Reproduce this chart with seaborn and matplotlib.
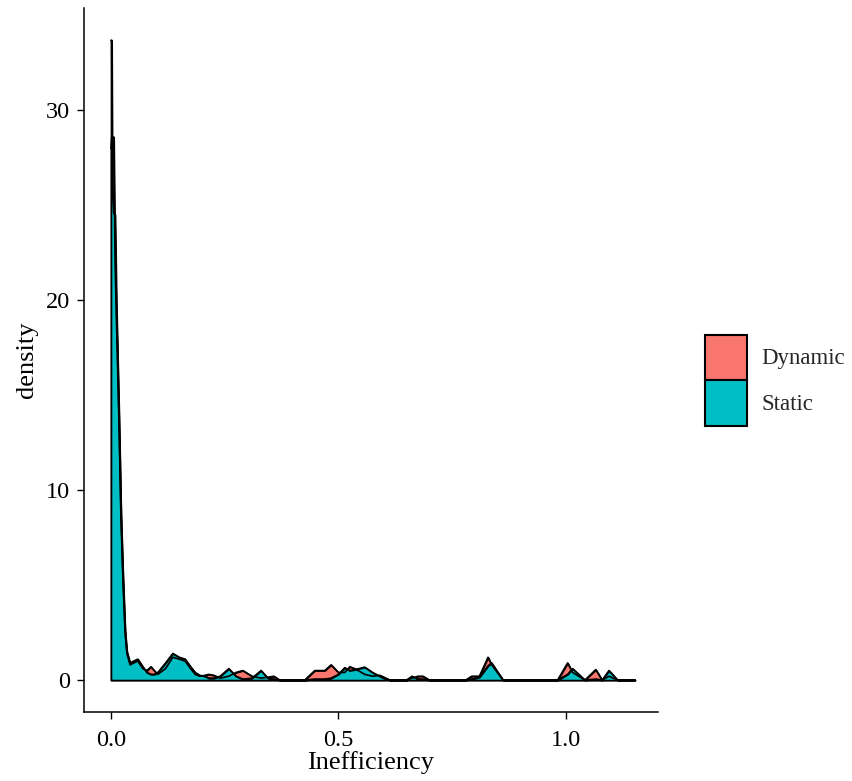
import numpy as np
import pandas as pd
import matplotlib
matplotlib.use("Agg")
import matplotlib.pyplot as plt
from matplotlib.patches import Patch
import seaborn as sns

# Density curves (x = Inefficiency, y = density)
x_grid = [0.0, 0.0015, 0.003, 0.006, 0.009, 0.012, 0.0176, 0.022, 0.0264, 0.031,
          0.035, 0.042, 0.05, 0.059, 0.07, 0.079, 0.088, 0.095, 0.103, 0.12,
          0.136, 0.15, 0.163, 0.175, 0.185, 0.195, 0.207, 0.215, 0.226, 0.24,
          0.259, 0.275, 0.29, 0.31, 0.33, 0.345, 0.358, 0.371, 0.426, 0.448,
          0.47, 0.484, 0.5, 0.514, 0.525, 0.536, 0.558, 0.575, 0.591, 0.6,
          0.613, 0.65, 0.662, 0.675, 0.686, 0.70, 0.78, 0.793, 0.81, 0.829,
          0.837, 0.862, 0.982, 1.004, 1.015, 1.042, 1.066, 1.08, 1.095, 1.114,
          1.152]
dynamic = [28.0, 28.6, 28.6, 28.6, 22.0, 19.0, 13.5, 8.5, 5.2, 2.5,
           1.4, 0.8, 0.9, 1.0, 0.6, 0.5, 0.7, 0.5, 0.3, 0.6,
           1.2, 1.1, 1.0, 0.6, 0.3, 0.2, 0.25, 0.3, 0.25, 0.1,
           0.2, 0.4, 0.5, 0.2, 0.1, 0.15, 0.2, 0.0, 0.0, 0.5,
           0.5, 0.8, 0.4, 0.4, 0.7, 0.6, 0.3, 0.2, 0.25, 0.15,
           0.0, 0.0, 0.1, 0.2, 0.2, 0.0, 0.0, 0.2, 0.2, 1.2,
           0.8, 0.0, 0.0, 0.9, 0.4, 0.0, 0.55, 0.0, 0.2, 0.0,
           0.0]
static = [33.7, 33.7, 26.0, 24.6, 24.5, 19.8, 14.0, 8.8, 5.5, 2.6,
          1.5, 0.9, 1.0, 1.1, 0.7, 0.4, 0.3, 0.3, 0.4, 0.9,
          1.4, 1.2, 1.1, 0.7, 0.4, 0.25, 0.2, 0.1, 0.1, 0.2,
          0.6, 0.2, 0.05, 0.1, 0.5, 0.1, 0.05, 0.0, 0.0, 0.05,
          0.05, 0.1, 0.3, 0.65, 0.5, 0.55, 0.68, 0.4, 0.2, 0.1,
          0.0, 0.0, 0.2, 0.05, 0.05, 0.0, 0.0, 0.05, 0.15, 0.75,
          0.9, 0.0, 0.0, 0.3, 0.6, 0.0, 0.05, 0.0, 0.5, 0.0,
          0.0]
groups = ["Dynamic", "Static"]
colors = {"Dynamic": "#F8766D", "Static": "#00BFC4"}
x_ticks = [0.0, 0.5, 1.0]
x_tick_labels = ["0.0", "0.5", "1.0"]
y_ticks = [0, 10, 20, 30]

df = pd.concat([
    pd.DataFrame({"Inefficiency": x_grid, "density": dynamic, "group": "Dynamic"}),
    pd.DataFrame({"Inefficiency": x_grid, "density": static, "group": "Static"}),
])

sns.set_theme(style="ticks")
plt.rcParams["font.family"] = ["Liberation Serif", "DejaVu Serif"]

fig = plt.figure(figsize=(8.52, 7.81), dpi=100)
ax = fig.add_axes([0.0986, 0.0884, 0.6734, 0.9014])

for g in groups:
    sub = df[df["group"] == g]
    ax.fill_between(sub["Inefficiency"], 0, sub["density"], facecolor=colors[g],
                    edgecolor="black", linewidth=1.2, zorder=2)
    sns.lineplot(data=sub, x="Inefficiency", y="density", color="black",
                 linewidth=1.2, ax=ax, zorder=3, legend=False)

ax.set_xlim(-0.0593, 1.2022)
ax.set_ylim(-1.68, 35.4)
ax.set_xticks(x_ticks)
ax.set_xticklabels(x_tick_labels)
ax.set_yticks(y_ticks)
ax.tick_params(axis="both", labelsize=17.5, colors="black", length=5, width=1,
               direction="out")
ax.tick_params(axis="x", pad=8)
ax.tick_params(axis="y", pad=5)
ax.set_xlabel("Inefficiency", fontsize=19, color="black", labelpad=0)
ax.set_ylabel("density", fontsize=19, color="black", labelpad=6)
sns.despine(ax=ax)
for s in ["left", "bottom"]:
    ax.spines[s].set_linewidth(1.1)
    ax.spines[s].set_color("black")

handles = [Patch(facecolor=colors[g], edgecolor="black", linewidth=1.5, label=g) for g in groups]
fig.legend(handles=handles, loc="center left", bbox_to_anchor=(0.828, 0.513),
           frameon=False, fontsize=16.5, handlelength=1.83, handleheight=2.7,
           labelspacing=0.0, handletextpad=0.6, borderpad=0, borderaxespad=0)

fig.savefig("out.png", dpi=100)
